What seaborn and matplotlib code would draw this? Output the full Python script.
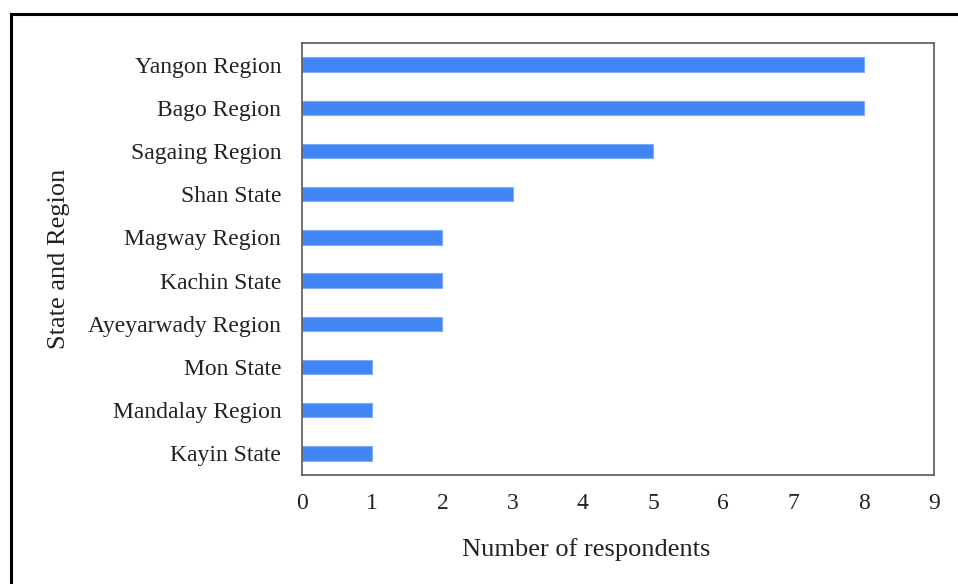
import matplotlib
matplotlib.use("Agg")
import matplotlib.pyplot as plt
import matplotlib.patches as mpatches
import seaborn as sns

REGIONS = ["Yangon Region", "Bago Region", "Sagaing Region", "Shan State",
           "Magway Region", "Kachin State", "Ayeyarwady Region", "Mon State",
           "Mandalay Region", "Kayin State"]
COUNTS = [8, 8, 5, 3, 2, 2, 2, 1, 1, 1]
X_TICKS = list(range(0, 10))
BAR_COLOR = "#4285F4"


def main():
    sns.set_theme(style="white")
    plt.rcParams["font.family"] = ["Liberation Serif", "DejaVu Serif"]

    fig = plt.figure(figsize=(9.58, 5.84), dpi=100)
    ax = fig.add_axes([302 / 958, 109 / 584, 632 / 958, 432 / 584])

    sns.barplot(x=COUNTS, y=REGIONS, orient="h", color=BAR_COLOR,
                width=0.33, saturation=1, edgecolor="#7FAAF7",
                linewidth=0.8, ax=ax)

    ax.set_xlim(0, 9)
    ax.set_xticks(X_TICKS)
    ax.tick_params(axis="both", length=0, labelsize=17, colors="#222222")
    ax.tick_params(axis="y", pad=15)
    ax.tick_params(axis="x", pad=13)
    ax.set_xlabel("Number of respondents", fontsize=19, color="#222222")
    ax.xaxis.set_label_coords(0.449, -0.147)
    ax.set_ylabel("State and Region", fontsize=19, labelpad=13,
                  color="#222222")
    for spine in ax.spines.values():
        spine.set_visible(True)
        spine.set_color("#595959")
        spine.set_linewidth(1.2)

    # outer frame (cropped at right and bottom in the original)
    frame = mpatches.Rectangle((11 / 958, -0.1), 1.2, 1.1 - 14 / 584,
                               transform=fig.transFigure, fill=False,
                               edgecolor="black", linewidth=2.2,
                               clip_on=False)
    fig.patches.append(frame)

    fig.savefig("out.png", dpi=100)
    plt.close(fig)


if __name__ == "__main__":
    main()
